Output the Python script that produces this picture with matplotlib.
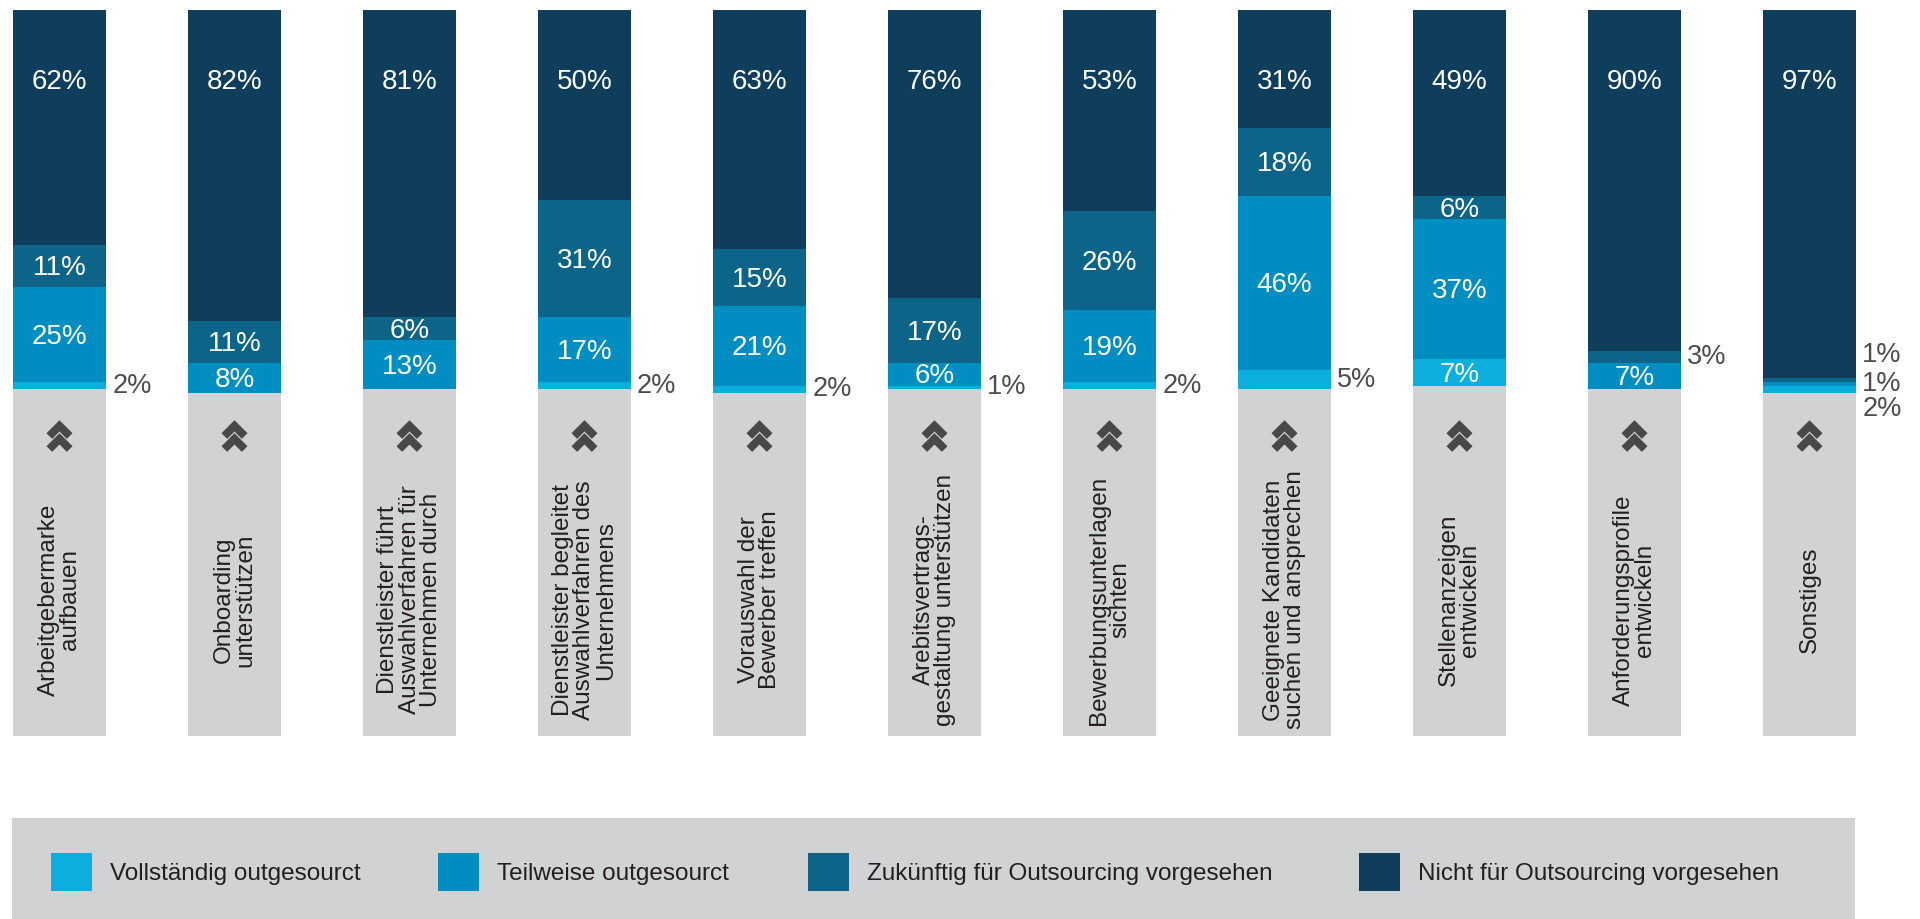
import numpy as np
import matplotlib
matplotlib.use("Agg")
import matplotlib.pyplot as plt
import matplotlib.transforms as mtransforms
from matplotlib.patches import Polygon, Rectangle

plt.rcParams["font.family"] = ["Liberation Sans", "DejaVu Sans"]

# --- data ---------------------------------------------------------------
categories = [
    "Arbeitgebermarke\naufbauen",
    "Onboarding\nunterstützen",
    "Dienstleister führt\nAuswahlverfahren für\nUnternehmen durch",
    "Dienstleister begleitet\nAuswahlverfahren des\nUnternehmens",
    "Vorauswahl der\nBewerber treffen",
    "Arebitsvertrags-\ngestaltung unterstützen",
    "Bewerbungsunterlagen\nsichten",
    "Geeignete Kandidaten\nsuchen und ansprechen",
    "Stellenanzeigen\nentwickeln",
    "Anforderungsprofile\nentwickeln",
    "Sonstiges",
]
nicht = [62, 82, 81, 50, 63, 76, 53, 31, 49, 90, 97]
zukuenftig = [11, 11, 6, 31, 15, 17, 26, 18, 6, 3, 1]
teilweise = [25, 8, 13, 17, 21, 6, 19, 46, 37, 7, 1]
vollstaendig = [2, 0, 0, 2, 2, 1, 2, 5, 7, 0, 2]

series_names = [
    "Nicht für Outsourcing vorgesehen",
    "Zukünftig für Outsourcing vorgesehen",
    "Teilweise outgesourct",
    "Vollständig outgesourct",
]
series_colors = ["#0f3e5c", "#0d6489", "#008dc1", "#0bafdd"]
legend_order = [3, 2, 1, 0]

GRAY = "#d1d2d4"
DARK_TEXT = "#231f20"
SIDE_TEXT = "#4d4d4f"
ICON = "#48484a"

# layout (pixel geometry of the original -> data units)
PITCH = 175.0
X0 = 59.5
Y0 = 10.3
PX_PER_PCT = 3.79
BAR_W = 93 / PITCH


def to_data(px, py):
    return (px - X0) / PITCH, (py - Y0) / PX_PER_PCT


# nudges for crowded outside labels (bar, series) -> pct units
nudge = {(10, 1): -6.5, (10, 3): 5.3}

fig = plt.figure(figsize=(19.2, 9.19), dpi=100)
ax = fig.add_axes([0, 0, 1, 1])
x_left, y_top = to_data(0, 0)
x_right, y_bot = to_data(1920, 919)
ax.set_xlim(x_left, x_right)
ax.set_ylim(y_bot, y_top)
ax.axis("off")

x = np.arange(len(categories))

# gray label boxes
_, g_top = to_data(0, 378)
_, g_bot = to_data(0, 736)
ax.bar(x, g_bot - g_top, bottom=g_top, width=BAR_W, color=GRAY, zorder=1)

# stacked bars hanging from the top
series = [nicht, zukuenftig, teilweise, vollstaendig]
cum = np.zeros(len(categories))
for s, (vals, col) in enumerate(zip(series, series_colors)):
    vals = np.array(vals, dtype=float)
    ax.bar(x, vals, bottom=cum, width=BAR_W, color=col, zorder=2)
    for i, v in enumerate(vals):
        if v == 0:
            continue
        if s == 0:
            ax.text(i, cum[i] + 19.0, f"{int(v)}%", color="white", fontsize=20,
                    ha="center", va="center", zorder=3)
        elif v > 5:
            ax.text(i, cum[i] + v / 2 + 0.6, f"{int(v)}%", color="white",
                    fontsize=20, ha="center", va="center", zorder=3)
        else:
            ax.text(i + BAR_W / 2 + 0.035, cum[i] + v / 2 + nudge.get((i, s), 0),
                    f"{int(v)}%", color=SIDE_TEXT, fontsize=19.5,
                    ha="left", va="center", zorder=3)
    cum += vals

# double chevron icons
chev = np.array([[0, 0], [13, -13], [7.34, -18.66], [0, -11.31],
                 [-7.34, -18.66], [-13, -13]])
_, icon_y = to_data(0, 436)
for i in x:
    trans = mtransforms.Affine2D().translate(0, 15.8) + \
        mtransforms.ScaledTranslation(i, icon_y, ax.transData)
    for dy in (0, -13):
        ax.add_patch(Polygon(chev + [0, dy], closed=True, transform=trans,
                             facecolor=ICON, edgecolor="none", zorder=3))

# category labels
_, lab_y = to_data(0, 600)
for i, name in enumerate(categories):
    ax.text(i, lab_y, name, rotation=90, ha="center", va="center",
            multialignment="center", fontsize=17.5, color=DARK_TEXT,
            linespacing=0.95, zorder=3)

# legend panel
lx0, ly0 = to_data(12, 818)
lx1, ly1 = to_data(1855, 930)
ax.add_patch(Rectangle((lx0, ly0), lx1 - lx0, ly1 - ly0, facecolor=GRAY,
                       edgecolor="none", clip_on=False, zorder=1))
sq_px = [51, 438, 808, 1359]
for k, px in zip(legend_order, sq_px):
    sx0, sy0 = to_data(px, 853)
    sx1, sy1 = to_data(px + 41, 891)
    ax.add_patch(Rectangle((sx0, sy0), sx1 - sx0, sy1 - sy0,
                           facecolor=series_colors[k], edgecolor="none", zorder=2))
    tx, ty = to_data(px + 59, 874)
    ax.text(tx, ty, series_names[k], ha="left", va="center", fontsize=17.5,
            color=DARK_TEXT, zorder=3)

fig.savefig("out.png", dpi=100)
